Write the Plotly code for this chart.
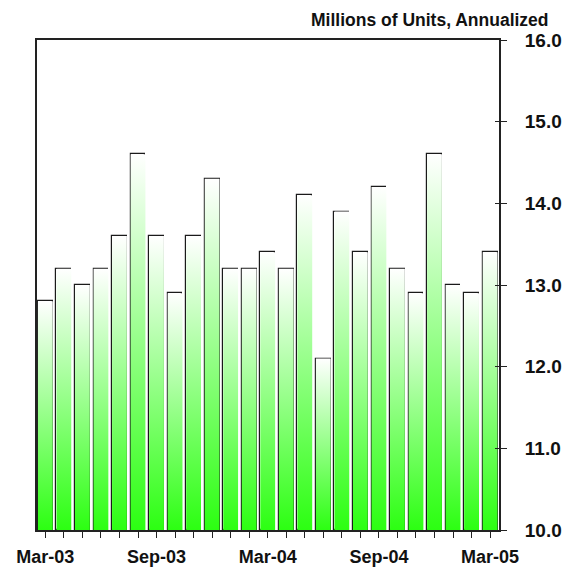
import plotly.graph_objects as go

# Monthly sales, millions of units (annualized rate), Mar-03 .. Mar-05
months = ["Mar-03", "Apr-03", "May-03", "Jun-03", "Jul-03", "Aug-03", "Sep-03",
          "Oct-03", "Nov-03", "Dec-03", "Jan-04", "Feb-04", "Mar-04", "Apr-04",
          "May-04", "Jun-04", "Jul-04", "Aug-04", "Sep-04", "Oct-04", "Nov-04",
          "Dec-04", "Jan-05", "Feb-05", "Mar-05"]
values = [12.8, 13.2, 13.0, 13.2, 13.6, 14.6, 13.6, 12.9, 13.6, 14.3, 13.2, 13.2,
          13.4, 13.2, 14.1, 12.1, 13.9, 13.4, 14.2, 13.2, 12.9, 14.6, 13.0, 12.9, 13.4]
labelled_months = ["Mar-03", "Sep-03", "Mar-04", "Sep-04", "Mar-05"]
y_ticks = [10, 11, 12, 13, 14, 15, 16]

BASE = 10.0
HALF = 0.4
GREEN = "#2cff12"
FONT = "Liberation Sans, Arial, sans-serif"

fig = go.Figure()

# gradient body of each bar (white at the top, green at the bottom)
for i, v in enumerate(values):
    fig.add_trace(go.Scatter(
        x=[i - HALF, i + HALF, i + HALF, i - HALF, i - HALF],
        y=[BASE, BASE, v, v, BASE],
        mode="lines", line=dict(width=0), fill="toself",
        fillgradient=dict(type="vertical",
                          colorscale=[[0, GREEN], [1, "#ffffff"]]),
        hoverinfo="skip", showlegend=False,
    ))

# outlines with a faint diagonal sheen
fig.add_trace(go.Bar(
    x=list(range(len(values))), y=[v - BASE for v in values], base=BASE,
    width=2 * HALF,
    marker=dict(color="rgba(0,0,0,0)",
                line=dict(color="#1a1a1a", width=1.2),
                pattern=dict(shape="\\", fgcolor="white", fgopacity=0.35,
                             size=7, solidity=0.12, fillmode="overlay")),
    customdata=months, hovertemplate="%{customdata}: %{y:.1f}<extra></extra>",
    showlegend=False,
))

# invisible trace carrying the inner half of the value-axis ticks
fig.add_trace(go.Scatter(x=[0], y=[BASE], yaxis="y2", mode="markers",
                         marker=dict(opacity=0), hoverinfo="skip",
                         showlegend=False))

tick_text = [f"<b>{m}</b>" if m in labelled_months else "" for m in months]

fig.update_layout(
    width=563, height=569,
    margin=dict(l=37, r=64, t=40, b=39),
    plot_bgcolor="white", paper_bgcolor="white",
    font=dict(family=FONT, color="#111"),
    bargap=0,
    xaxis=dict(
        range=[-0.45, len(values) - 0.52],
        tickmode="array", tickvals=list(range(len(values))), ticktext=tick_text,
        ticks="outside", ticklen=6, tickwidth=1, tickcolor="#222",
        showline=True, linewidth=2, linecolor="#222", mirror=True,
        showgrid=False, zeroline=False, automargin=False,
        tickfont=dict(family=FONT, size=18, color="#111"),
        tickangle=0, ticklabelstandoff=3,
    ),
    yaxis=dict(
        side="right", range=[10, 16],
        tickmode="array", tickvals=y_ticks,
        ticktext=[f"<b>{t:.1f}</b>" for t in y_ticks],
        ticks="outside", ticklen=6, tickwidth=1, tickcolor="#222",
        showline=True, linewidth=2, linecolor="#222", mirror=True,
        showgrid=False, zeroline=False, automargin=False,
        tickfont=dict(family=FONT, size=19, color="#111"),
        ticklabelstandoff=14,
    ),
    yaxis2=dict(
        overlaying="y", side="right", range=[10, 16],
        tickmode="array", tickvals=y_ticks,
        ticks="inside", ticklen=4, tickwidth=1, tickcolor="#222",
        showticklabels=False, showline=False, showgrid=False,
        zeroline=False, automargin=False,
    ),
    annotations=[dict(
        text="<b>Millions of Units, Annualized</b>",
        xref="paper", yref="paper", x=1.1126, y=1.0, yshift=8,
        xanchor="right", yanchor="bottom", showarrow=False,
        font=dict(family=FONT, size=17.5, color="#111"),
    )],
)

fig.write_html("out.html")
